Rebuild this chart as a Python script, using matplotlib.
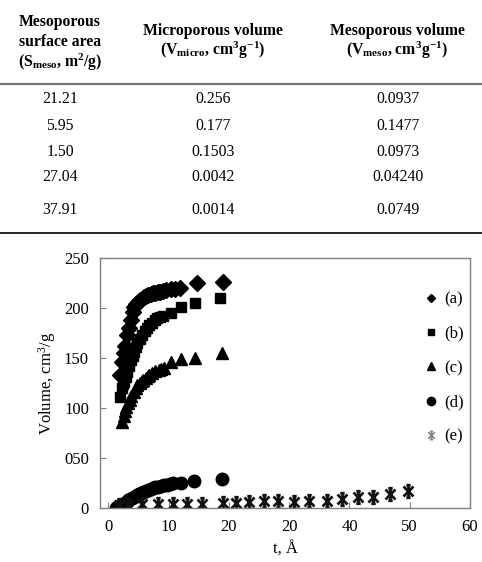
import matplotlib
matplotlib.use("Agg")
import matplotlib.pyplot as plt
from matplotlib.lines import Line2D
from matplotlib.path import Path

plt.rcParams["font.family"] = "Liberation Serif"
plt.rcParams["mathtext.fontset"] = "custom"
plt.rcParams["mathtext.rm"] = "Liberation Serif"
plt.rcParams["mathtext.bf"] = "Liberation Serif:bold"
plt.rcParams["mathtext.default"] = "regular"

# table data
col_surface = ["21.21", "5.95", "1.50", "27.04", "37.91"]
col_micro = ["0.256", "0.177", "0.1503", "0.0042", "0.0014"]
col_meso = ["0.0937", "0.1477", "0.0973", "0.04240", "0.0749"]

# t-plot data
t_a = [1.9, 2.2, 2.5, 2.8, 3.1, 3.4, 3.7, 4.0, 4.3, 4.6, 4.9, 5.3, 5.6, 5.9, 6.2, 6.6, 7.0, 7.4, 7.8, 8.2, 8.6, 9.0, 9.5, 10.3, 11.1, 11.9, 14.7, 19.0]
v_a = [133, 146, 155, 162, 173, 180, 188, 196, 201, 204, 206, 208, 209, 211, 212, 213, 214, 215, 215, 216, 216, 217, 218, 219, 219, 220, 225, 226]

t_b = [2.0, 2.2, 2.4, 2.6, 2.9, 3.1, 3.4, 3.7, 4.0, 4.2, 4.5, 4.8, 5.2, 5.6, 6.0, 6.4, 6.8, 7.3, 7.7, 8.1, 8.6, 9.1, 10.3, 12.1, 14.3, 18.5]
v_b = [111, 120, 124, 126, 131, 136, 142, 148, 152, 156, 161, 165, 169, 173, 177, 180, 183, 185, 188, 190, 191, 192, 195, 201, 205, 210]

t_c = [2.3, 2.5, 2.7, 2.9, 3.2, 3.5, 3.8, 4.2, 4.5, 4.8, 5.2, 5.5, 5.8, 6.2, 6.5, 6.8, 7.3, 7.8, 8.4, 8.8, 9.2, 10.3, 12.0, 14.4, 18.8]
v_c = [86, 92, 97, 101, 105, 108, 112, 116, 120, 123, 125, 127, 128, 130, 132, 133, 135, 137, 138, 139, 140, 146, 149, 150, 155]

t_d = [1.2, 1.5, 1.8, 2.1, 2.4, 2.7, 3.0, 3.3, 3.6, 3.9, 4.2, 4.5, 4.8, 5.1, 5.4, 5.8, 6.2, 6.6, 7.0, 7.4, 7.8, 8.2, 8.7, 9.2, 9.7, 10.2, 10.7, 12.0, 14.2, 18.8]
v_d = [0, 1, 2, 3, 4, 5, 6, 8, 9, 10, 11, 12, 13, 14, 15, 16, 17, 18, 19, 20, 21, 21, 22, 23, 23, 24, 25, 25, 27, 29]

t_e = [1.7, 3.3, 5.6, 8.3, 10.7, 13.0, 15.5, 19.0, 21.2, 23.3, 25.8, 28.2, 30.8, 33.2, 36.2, 38.7, 41.4, 43.9, 46.7, 49.7]
v_e = [3, 3, 4, 4, 4, 4, 4, 5, 5, 6, 7, 7, 6, 7, 7, 9, 11, 11, 14, 17]

x_ticks = [0, 10, 20, 30, 40, 50, 60]
x_ticklabels = ["0", "10", "20", "20", "40", "50", "60"]
y_ticks = [0, 50, 100, 150, 200, 250]
y_ticklabels = ["0", "050", "100", "150", "200", "250"]

# excel style star: X with a vertical bar through it
star = Path([(-0.8, -0.8), (0.8, 0.8), (-0.8, 0.8), (0.8, -0.8), (0, -1), (0, 1),
             (-0.35, 1), (0.35, 1), (-0.35, -1), (0.35, -1)],
            [Path.MOVETO, Path.LINETO] * 5)

W, H = 482, 562
fig = plt.figure(figsize=(W / 100, H / 100), dpi=100)

def fy(y):
    return 1 - y / H

def fx(x):
    return x / W

# ---- table ----
hdr = dict(fontsize=11.3, fontweight="bold", ha="center", va="center")
fig.text(fx(60), fy(22), "Mesoporous", **hdr)
fig.text(fx(60), fy(42), "surface area", **hdr)
fig.text(fx(60), fy(62), r"(S$_\mathbf{meso}$, m$^\mathbf{2}$/g)", **hdr)
fig.text(fx(213), fy(31), "Microporous volume", **hdr)
fig.text(fx(213), fy(50), r"(V$_\mathbf{micro}$, cm$^\mathbf{3}$g$^\mathbf{-1}$)", **hdr)
fig.text(fx(397), fy(31), "Mesoporous volume", **hdr)
fig.text(fx(397), fy(50), r"(V$_\mathbf{meso}$, cm$^\mathbf{3}$g$^\mathbf{-1}$)", **hdr)

fig.add_artist(Line2D([0, 1], [fy(84), fy(84)], transform=fig.transFigure, color="#777777", lw=1.6))
fig.add_artist(Line2D([0, 1], [fy(233), fy(233)], transform=fig.transFigure, color="black", lw=1.2))

row_y = [99, 126, 152, 177, 210]
for i, y in enumerate(row_y):
    fig.text(fx(60), fy(y), col_surface[i], fontsize=11.3, ha="center", va="center")
    fig.text(fx(213), fy(y), col_micro[i], fontsize=11.3, ha="center", va="center")
    fig.text(fx(398), fy(y), col_meso[i], fontsize=11.3, ha="center", va="center")

# ---- chart ----
ax = fig.add_axes([100 / W, 1 - 508 / H, 370 / W, 250 / H])
ax.plot(t_a, v_a, "D", color="black", ms=8, ls="none")
ax.plot(t_b, v_b, "s", color="black", ms=7.2, ls="none")
ax.plot(t_c, v_c, "^", color="black", ms=9, ls="none")
ax.plot(t_d, v_d, "o", color="black", ms=9, ls="none")
ax.plot(t_e, v_e, marker=star, color="#111111", ms=9, mew=2.0, ls="none")

ax.set_xlim(-1.4, 60)
ax.set_ylim(0, 250)
ax.set_xticks(x_ticks)
ax.set_xticklabels(x_ticklabels)
ax.set_yticks(y_ticks)
ax.set_yticklabels(y_ticklabels)
ax.tick_params(direction="in", length=4, color="#808080", labelsize=12, pad=8)
for sp in ax.spines.values():
    sp.set_color("#808080")
    sp.set_linewidth(1.0)

ax.set_ylabel("Volume, cm$^3$/g", fontsize=12, labelpad=4)
ax.set_xlabel("t, Å", fontsize=12)
ax.xaxis.set_label_coords(0.5, -0.135)

handles = [
    Line2D([], [], marker="D", color="black", ls="none", ms=4.5),
    Line2D([], [], marker="s", color="black", ls="none", ms=5),
    Line2D([], [], marker="^", color="black", ls="none", ms=5.5),
    Line2D([], [], marker="o", color="black", ls="none", ms=6),
    Line2D([], [], marker=star, color="#888888", ls="none", ms=6, mew=1.2),
]
ax.legend(handles, ["(a)", "(b)", "(c)", "(d)", "(e)"], loc="upper left",
          bbox_to_anchor=(0.855, 0.9), frameon=False, fontsize=12,
          handlelength=0.8, handletextpad=0.4, labelspacing=1.1, borderpad=0)

fig.savefig("out.png", dpi=100)
